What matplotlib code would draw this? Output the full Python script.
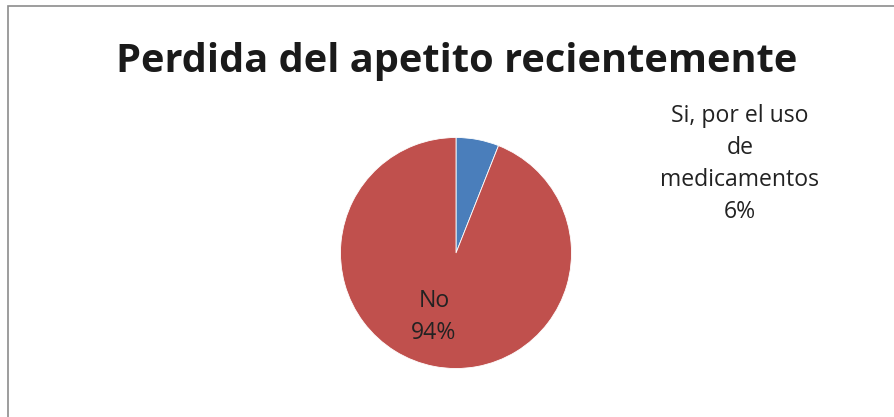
import matplotlib.pyplot as plt
from matplotlib.patches import Rectangle

labels = ['Si, por el uso\nde\nmedicamentos', 'No']
values = [6, 94]
colors = ['#4A7EBB', '#C0504D']

plt.rcParams['font.family'] = ['Open Sans', 'DejaVu Sans']

fig = plt.figure(figsize=(8.94, 4.17), dpi=100)
W, H = 894, 417

# outer chart border (right and bottom edges fall outside the image)
fig.patches.append(Rectangle((8 / W, -0.1), 1.1, 1.1 - 6 / H, transform=fig.transFigure,
                             fill=False, edgecolor='#8c8c8c', linewidth=1.2))

fig.text(457 / W, 1 - 72 / H, 'Perdida del apetito recientemente', ha='center', va='baseline',
         fontsize=28.6, fontweight='bold', color='#1a1a1a')

r = 115.5
cx, cy = 456, 253
ax = fig.add_axes([(cx - r) / W, 1 - (cy + r) / H, 2 * r / W, 2 * r / H])
ax.pie(values, colors=colors, startangle=90, counterclock=False,
       wedgeprops=dict(linewidth=0.6, edgecolor='white'))
ax.set_xlim(-1, 1)
ax.set_ylim(-1, 1)
ax.set_aspect('auto')
ax.axis('off')

fig.text(434 / W, 1 - 317 / H, f'{labels[1]}\n{values[1]}%', ha='center', va='center',
         fontsize=16.6, color='#222222', linespacing=1.45)
fig.text(740 / W, 1 - 164 / H, f'{labels[0]}\n{values[0]}%', ha='center', va='center',
         fontsize=16.6, color='#222222', linespacing=1.45)

fig.savefig('out.png', dpi=100)
